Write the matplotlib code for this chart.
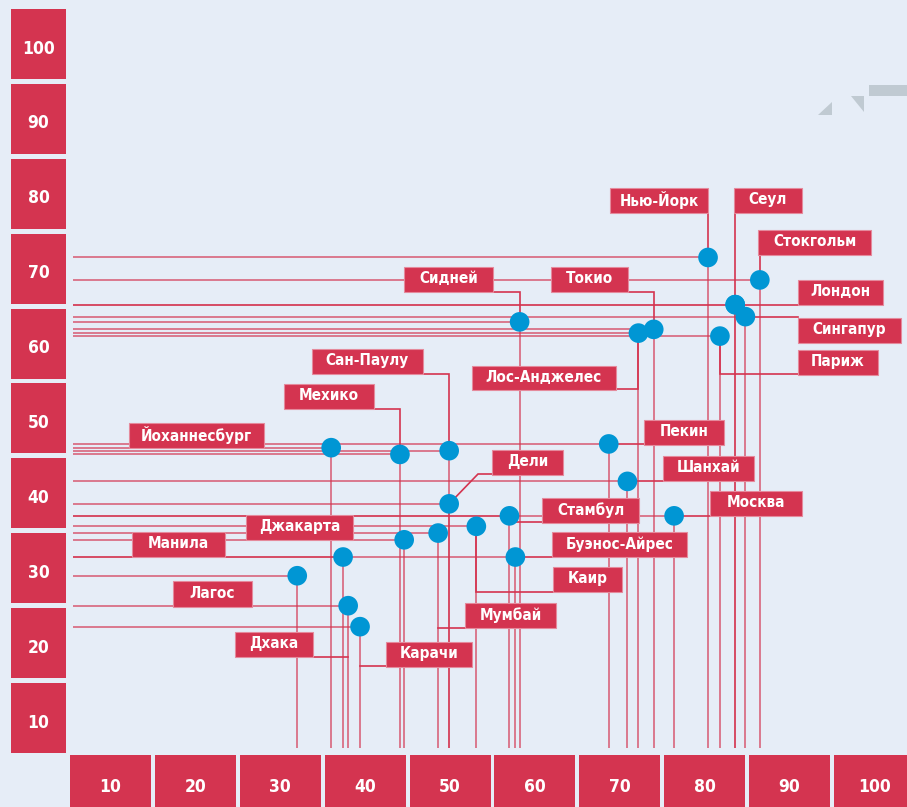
import matplotlib
matplotlib.use("Agg")
import matplotlib.pyplot as plt
from matplotlib.patches import Rectangle, Polygon

# ---------------- data ----------------
cities = ["Нью-Йорк", "Сеул", "Стокгольм", "Лондон", "Сингапур", "Париж",
          "Сидней", "Токио", "Лос-Анджелес", "Сан-Паулу", "Мехико",
          "Йоханнесбург", "Пекин", "Шанхай", "Дели", "Стамбул", "Москва",
          "Буэнос-Айрес", "Каир", "Мумбай", "Карачи", "Дхака", "Лагос",
          "Манила", "Джакарта"]
x_vals = [80.4, 83.6, 86.5, 83.6, 84.8, 81.8,
          58.2, 74.0, 72.2, 49.9, 44.1,
          36.0, 68.7, 70.9, 49.9, 57.0, 76.4,
          57.7, 53.1, 48.6, 39.4, 38.0, 32.0,
          37.4, 44.6]
y_vals = [71.5, 65.2, 68.5, 65.2, 63.6, 61.0,
          62.9, 61.9, 61.4, 45.7, 45.2,
          46.1, 46.6, 41.6, 38.6, 37.0, 37.0,
          31.5, 35.6, 34.7, 22.2, 25.0, 29.0,
          31.5, 33.8]
x_ticks = [10, 20, 30, 40, 50, 60, 70, 80, 90, 100]
y_ticks = [10, 20, 30, 40, 50, 60, 70, 80, 90, 100]

# ---------------- style ----------------
BG = "#E6EDF7"
RED = "#D43450"
BLUE = "#0096D4"
GREY = "#C0CAD2"
FONT = ["Liberation Sans Narrow", "DejaVu Sans"]
STRETCH = "condensed"

W, H = 907, 807
fig = plt.figure(figsize=(W / 100, H / 100), dpi=100, facecolor=BG)
ax = fig.add_axes([0, 0, 1, 1])
ax.set_facecolor(BG)
ax.set_xlim(-3.02, 103.84)
ax.set_ylim(-1.88, 105.88)
ax.axis("off")

inv = ax.transData.inverted()


def to_data(px, py):
    return inv.transform((px, H - py))


def to_px(x, y):
    dx, dy = ax.transData.transform((x, y))
    return dx, H - dy


# baseline positions of the guide lines (pixels)
x0_data = to_data(73, 0)[0]
y0_data = to_data(0, 748)[1]

# guide lines
for x, y in zip(x_vals, y_vals):
    ax.plot([x0_data, x], [y, y], color=RED, lw=1.1, alpha=0.8, zorder=1,
            solid_capstyle="butt")
    ax.plot([x, x], [y0_data, y], color=RED, lw=1.1, alpha=0.8, zorder=1,
            solid_capstyle="butt")

# axis boxes
half_w = 40.5 / 8.4877
for t in x_ticks:
    ax.add_patch(Rectangle((t - half_w, ax.get_ylim()[0]), 2 * half_w,
                           to_data(0, 755)[1] - ax.get_ylim()[0],
                           color=RED, lw=0, zorder=3, clip_on=False))
    ax.text(t, to_data(0, 787)[1], str(t), color="white", fontsize=12.5,
            fontweight="bold", family=FONT, fontstretch=STRETCH,
            ha="center", va="center", zorder=4)
half_h = 35 / 7.489
yx0 = to_data(11, 0)[0]
yx1 = to_data(66, 0)[0]
for t in y_ticks:
    ax.add_patch(Rectangle((yx0, t - half_h), yx1 - yx0, 2 * half_h,
                           color=RED, lw=0, zorder=3))
    ax.text((yx0 + yx1) / 2, t - 4.5 / 7.489, str(t), color="white",
            fontsize=12.5, fontweight="bold", family=FONT, fontstretch=STRETCH,
            ha="center", va="center", zorder=4)

# label boxes (pixel layout): left, top, right, bottom, leader points
D = "dot"
labels = {
    "Нью-Йорк": (610, 188, 708, 213, [(None, 213), D]),
    "Сеул": (734, 188, 802, 213, [(None, 213), D]),
    "Стокгольм": (758, 230, 871, 255, [(None, 255), D]),
    "Лондон": (798, 280, 883, 305, [D, (798, None)]),
    "Сингапур": (798, 318, 901, 343, [D, (798, None)]),
    "Париж": (798, 350, 878, 375, [D, (None, 374), (798, 374)]),
    "Сидней": (404, 267, 493, 292, [(493, 292), (None, 292), D]),
    "Токио": (551, 267, 628, 292, [(628, 292), (None, 292), D]),
    "Лос-Анджелес": (472, 366, 616, 390, [(616, 389), (None, 389), D]),
    "Сан-Паулу": (312, 349, 423, 374, [(423, 374), (None, 374), D]),
    "Мехико": (284, 384, 374, 409, [(374, 409), (None, 409), D]),
    "Йоханнесбург": (129, 423, 264, 448, []),
    "Пекин": (644, 420, 724, 445, [D, (644, None)]),
    "Шанхай": (663, 456, 754, 481, [D, (663, None)]),
    "Дели": (492, 450, 563, 475, [D, (478, 474), (492, 474)]),
    "Стамбул": (542, 498, 639, 523, [(None, 522), (542, 522)]),
    "Москва": (710, 491, 802, 516, [D, (710, None)]),
    "Буэнос-Айрес": (552, 532, 687, 557, [D, (552, None)]),
    "Каир": (553, 567, 622, 592, [D, (None, 592), (553, 592)]),
    "Мумбай": (465, 603, 556, 628, [(None, 628), (465, 628)]),
    "Карачи": (386, 642, 472, 667, [(None, 666), (386, 666)]),
    "Дхака": (235, 632, 313, 657, [(313, 657), (None, 657)]),
    "Лагос": (173, 581, 252, 607, []),
    "Манила": (132, 532, 225, 557, []),
    "Джакарта": (246, 515, 353, 540, []),
}

for name, x, y in zip(cities, x_vals, y_vals):
    l, t, r, b, leader = labels[name]
    dpx, dpy = to_px(x, y)
    pts = []
    for p in leader:
        if p == D:
            pts.append((dpx, dpy))
        else:
            px = dpx if p[0] is None else p[0]
            py = dpy if p[1] is None else p[1]
            pts.append((px, py))
    if pts:
        dd = [to_data(px, py) for px, py in pts]
        ax.plot([q[0] for q in dd], [q[1] for q in dd], color=RED, lw=1.2,
                zorder=2, solid_joinstyle="miter")
    (x0, y1) = to_data(l, t)
    (x1, y0) = to_data(r, b)
    ax.add_patch(Rectangle((x0, y0), x1 - x0, y1 - y0, facecolor=RED,
                           edgecolor="#E58A9C", lw=0.8, zorder=3))
    ax.text((x0 + x1) / 2, (y0 + y1) / 2 + 0.1, name, color="white",
            fontsize=11, fontweight="bold", family=FONT, fontstretch=STRETCH,
            ha="center", va="center", zorder=4)

# points
ax.scatter(x_vals, y_vals, s=200, color=BLUE, edgecolor="none", zorder=5)

# decorative corner marks (top right)
def poly(pts_px):
    return Polygon([to_data(px, py) for px, py in pts_px], closed=True,
                   facecolor=GREY, edgecolor="none", zorder=1)

ax.add_patch(poly([(832, 102), (832, 115), (818, 115)]))
ax.add_patch(poly([(851, 96), (864, 96), (864, 112)]))
ax.add_patch(poly([(869, 85), (907, 85), (907, 96), (869, 96)]))

fig.savefig("out.png", dpi=100, facecolor=BG)
